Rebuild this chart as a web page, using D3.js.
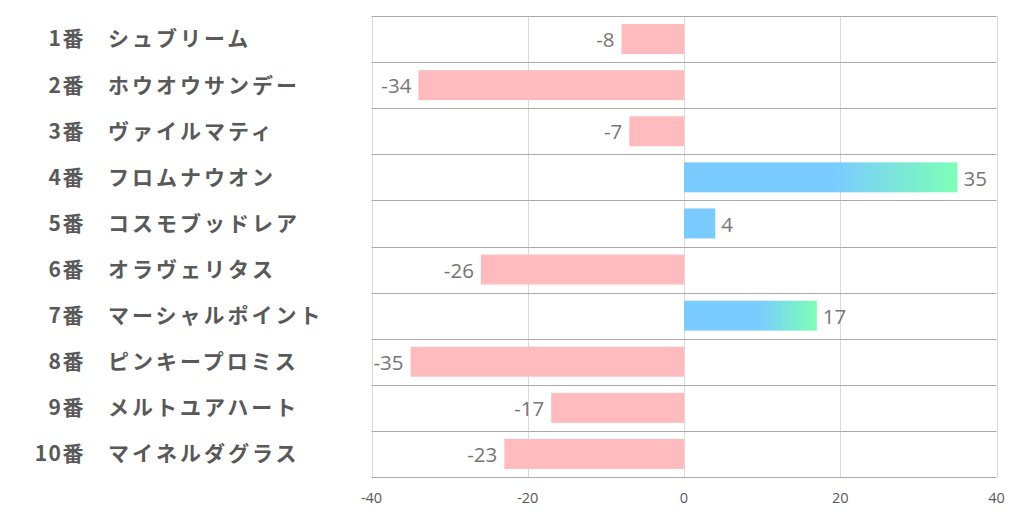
<!DOCTYPE html>
<html><head><meta charset="utf-8">
<script src="https://cdn.jsdelivr.net/npm/d3@7"></script>
<style>body{margin:0;background:#fff}</style>
</head><body>
<svg id="c" width="1022" height="522"></svg>
<script>
const numbers = ["1番","2番","3番","4番","5番","6番","7番","8番","9番","10番"];
const names = ["シュブリーム","ホウオウサンデー","ヴァイルマティ","フロムナウオン","コスモブッドレア","オラヴェリタス","マーシャルポイント","ピンキープロミス","メルトユアハート","マイネルダグラス"];
const values = [-8,-34,-7,35,4,-26,17,-35,-17,-23];
const xTicks = [-40,-20,0,20,40];

const svg = d3.select("#c");
const pLeft = 371.5, pRight = 996.5, pTop = 16, pBottom = 477;
const x = d3.scaleLinear().domain([-40,40]).range([pLeft,pRight]);
const y = d3.scaleBand().domain(d3.range(values.length)).range([pTop,pBottom]).paddingInner(0.35).paddingOuter(0.175);

const defs = svg.append("defs");
const g = defs.append("linearGradient").attr("id","grad").attr("x1","0").attr("x2","1").attr("y1","0").attr("y2","0");
g.append("stop").attr("offset","0.55").attr("stop-color","#7acbff");
g.append("stop").attr("offset","1").attr("stop-color","#7dffb6");

// vertical grid
svg.append("g").selectAll("line").data(xTicks).join("line")
  .attr("x1",d=>Math.round(x(d))+0.5).attr("x2",d=>Math.round(x(d))+0.5)
  .attr("y1",pTop).attr("y2",pBottom).attr("stroke","#d9d9d9").attr("stroke-width",1);
// horizontal grid
const rowStep = (pBottom-pTop)/values.length;
svg.append("g").selectAll("line").data(d3.range(values.length+1)).join("line")
  .attr("x1",pLeft).attr("x2",pRight)
  .attr("y1",d=>Math.round(pTop+d*rowStep)+0.5).attr("y2",d=>Math.round(pTop+d*rowStep)+0.5)
  .attr("stroke","#ababab").attr("stroke-width",1);

// bars
svg.append("g").selectAll("rect").data(values).join("rect")
  .attr("x",d=>x(Math.min(0,d))).attr("width",d=>Math.abs(x(d)-x(0)))
  .attr("y",(d,i)=>y(i)).attr("height",y.bandwidth())
  .attr("fill",d=>d<0?"#ffbbbe":(d>=10?"url(#grad)":"#7acbff"));

// value labels
svg.append("g").selectAll("text").data(values).join("text")
  .attr("x",d=>d<0?x(d)-7:x(d)+6)
  .attr("y",(d,i)=>y(i)+y.bandwidth()/2+1)
  .attr("dy","0.35em")
  .attr("text-anchor",d=>d<0?"end":"start")
  .attr("font-family","'Open Sans', 'Noto Sans', sans-serif")
  .attr("font-size",20.5).attr("fill","#767676")
  .text(d=>d);

// category labels
const lab = svg.append("g").attr("font-family","'Noto Sans CJK JP', sans-serif").attr("font-weight","bold").attr("font-size",21).attr("fill","#595959");
lab.selectAll("text.n").data(numbers).join("text").attr("class","n")
  .attr("x",85).attr("y",(d,i)=>y(i)+y.bandwidth()/2).attr("dy","0.35em").attr("text-anchor","end")
  .attr("letter-spacing",1.5).text(d=>d);
lab.selectAll("text.m").data(names).join("text").attr("class","m")
  .attr("x",108).attr("y",(d,i)=>y(i)+y.bandwidth()/2).attr("dy","0.35em")
  .attr("letter-spacing",3).text(d=>d);

// x axis tick labels
svg.append("g").selectAll("text").data(xTicks).join("text")
  .attr("x",d=>x(d)).attr("y",503).attr("text-anchor","middle")
  .attr("font-family","'Open Sans', 'Noto Sans', sans-serif").attr("font-size",14.5).attr("fill","#595959")
  .text(d=>d);
</script>
</body></html>
